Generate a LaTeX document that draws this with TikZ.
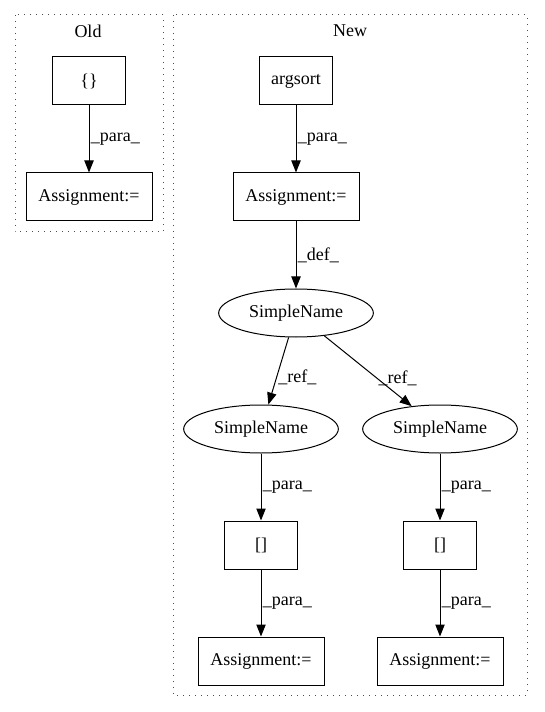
\documentclass[tikz,border=0pt]{standalone}
\usepackage{fontspec}
\setmainfont{Liberation Serif}
\usetikzlibrary{shapes.geometric}
\usetikzlibrary{arrows.meta}

\begin{document}
\begin{tikzpicture}[x=0.75pt, y=-0.75pt, line width=0.75pt,
	every node/.style={font=\fontsize{13.5}{15}\selectfont},
	box/.style={draw, minimum width=55pt, minimum height=36pt},
	abox/.style={draw, minimum width=94.5pt, minimum height=36pt, inner xsep=2pt},
	ell/.style={draw, ellipse, minimum width=116pt, minimum height=36pt, inner sep=0pt},
	cluster/.style={draw=black!70, dash pattern=on 0.75pt off 3.75pt},
	lbl/.style={right, inner sep=1pt},
	>={Triangle[length=9pt, width=7pt]}]
\useasboundingbox (0, 0) rectangle (544, 712);
% Old
\draw[cluster] (15, 15) rectangle (163, 232);
\node (oldtitle) at (88, 31) {Old};
\node[box] (braces) at (89, 81) {\{\}};
\node[abox] (oldassign) at (89, 197) {Assignment:=};
\draw[->] (braces) to node[lbl] {\_para\_} (oldassign);
% New
\draw[cluster] (173, 15) rectangle (527, 695);
\node (newtitle) at (350, 31) {New};
\node[box] (argsort) at (296, 81) {argsort};
\node[abox] (assign) at (296, 197) {Assignment:=};
\node[ell] (name) at (296, 313) {SimpleName};
\node[ell] (nameL) at (261, 429) {SimpleName};
\node[ell] (nameR) at (440, 429) {SimpleName};
\node[box] (idxL) at (261, 545) {[]};
\node[box] (idxR) at (440, 545) {[]};
\node[abox] (assignL) at (261, 661) {Assignment:=};
\node[abox] (assignR) at (440, 661) {Assignment:=};
\draw[->] (argsort) to node[lbl] {\_para\_} (assign);
\draw[->] (assign) to node[lbl] {\_def\_} (name);
\draw[->] (name) to node[lbl, pos=0.6] {\_ref\_} (nameL);
\draw[->] (name) to node[lbl, pos=0.6] {\_ref\_} (nameR);
\draw[->] (nameL) to node[lbl] {\_para\_} (idxL);
\draw[->] (nameR) to node[lbl] {\_para\_} (idxR);
\draw[->] (idxL) to node[lbl] {\_para\_} (assignL);
\draw[->] (idxR) to node[lbl] {\_para\_} (assignR);
\end{tikzpicture}
\end{document}
